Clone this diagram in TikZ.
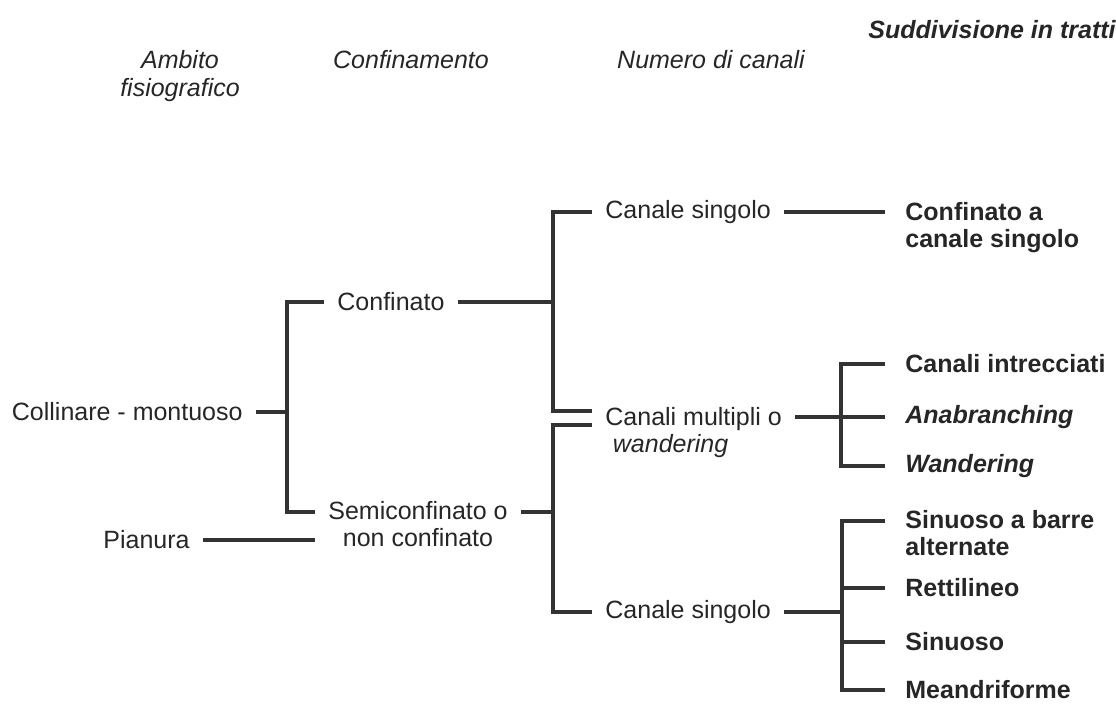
\documentclass[tikz,border=0pt]{standalone}
\usepackage{fontspec}
\setmainfont{Liberation Sans}
\begin{document}
\begin{tikzpicture}[x=0.5pt,y=-0.5pt,
  every node/.style={inner xsep=6.5pt,inner ysep=0pt,font=\fontsize{12.5}{13.5}\selectfont,text=black!85},
  head/.style={font=\fontsize{12.5}{14}\selectfont\itshape,align=center},
  leaf/.style={inner xsep=10pt,font=\fontsize{12.5}{13.5}\selectfont\bfseries,align=left},
  link/.style={line width=1.6pt,draw=black!80}]

  \useasboundingbox (0,0) rectangle (1116,704);

  \node[head,anchor=north] (hamb) at (180,50) {Ambito\\fisiografico};
  \node[head] (hconf) at (411,60) {Confinamento};
  \node[head] (hnum) at (711,60) {Numero di canali};
  \node[head,font=\fontsize{12.5}{14}\selectfont\bfseries\itshape] (hsud) at (992,30) {Suddivisione in tratti};

  \node[anchor=east] (coll) at (256,412) {Collinare - montuoso};
  \node[anchor=east] (pian) at (203,540) {Pianura};

  \node[anchor=west] (conf) at (324,302) {Confinato};
  \node[anchor=north,align=center] (semi) at (418,500.5) {Semiconfinato o\\non confinato};

  \node[anchor=west] (cs1) at (592,212) {Canale singolo};
  \node[anchor=north west,align=left] (cm) at (592,406.5) {Canali multipli o\\\hspace{0.3em}\textit{wandering}};
  \node[anchor=west] (cs2) at (592,612) {Canale singolo};

  \node[leaf,anchor=north west] (lconf) at (885,201.5) {Confinato a\\canale singolo};
  \node[leaf,anchor=west] (lint) at (885,364) {Canali intrecciati};
  \node[leaf,anchor=west] (lana) at (885,417) {\itshape Anabranching};
  \node[leaf,anchor=west] (lwan) at (885,466) {\itshape Wandering};
  \node[leaf,anchor=north west] (lsin) at (885,509.5) {Sinuoso a barre\\alternate};
  \node[leaf,anchor=west] (lret) at (885,588) {Rettilineo};
  \node[leaf,anchor=west] (lsnu) at (885,642) {Sinuoso};
  \node[leaf,anchor=west] (lmea) at (885,690) {Meandriforme};

  \coordinate (j1) at (287,412);
  \coordinate (j2) at (553,302);
  \coordinate (j3) at (553,512);
  \coordinate (j4) at (841,417);
  \coordinate (j5) at (842,612);

  \draw[link] (coll.east) -- (j1);
  \draw[link] (conf.west) -| (j1) |- (semi.west |- 0,512);
  \draw[link] (pian.east) -- (semi.west |- pian.east);

  \draw[link] (conf.east) -- (j2);
  \draw[link] (cs1.west) -| (j2) |- (cm.west |- 0,411);
  \draw[link] (semi.east |- 0,512) -- (j3);
  \draw[link] (cm.west |- 0,425) -| (j3) |- (cs2.west);

  \draw[link] (cs1.east) -- (lconf.west |- cs1.east);
  \draw[link] (cm.east |- j4) -- (j4);
  \draw[link] (lint.west) -| (j4) |- (lwan.west);
  \draw[link] (j4) -- (lana.west);
  \draw[link] (cs2.east) -- (j5);
  \draw[link] (lsin.west |- 0,521) -| (j5) |- (lmea.west);
  \foreach \n in {lret,lsnu}
    \draw[link] (j5 |- \n.west) -- (\n.west);

\end{tikzpicture}
\end{document}
